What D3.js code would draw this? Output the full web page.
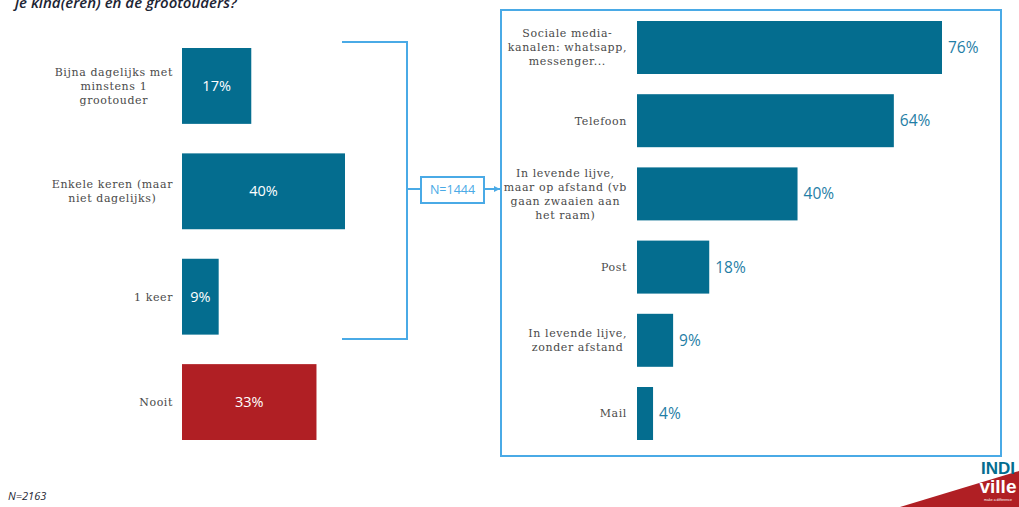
<!DOCTYPE html>
<html><head><meta charset="utf-8">
<script src="https://cdn.jsdelivr.net/npm/d3@7"></script>
<style>html,body{margin:0;padding:0;background:#fff;}svg{display:block;}</style>
</head><body>
<svg id="chart" width="1019" height="507"></svg>
<script>
// ---- data ----
const leftCategories = [
  ["Bijna dagelijks met", "minstens 1", "grootouder"],
  ["Enkele keren (maar", "niet dagelijks)"],
  ["1 keer"],
  ["Nooit"]
];
const leftValues = [17, 40, 9, 33];
const leftColors = ["#046d8f", "#046d8f", "#046d8f", "#b01f24"];

const rightCategories = [
  ["Sociale media-", "kanalen: whatsapp,", "messenger..."],
  ["Telefoon"],
  ["In levende lijve,", "maar op afstand (vb", "gaan zwaaien aan", "het raam)"],
  ["Post"],
  ["In levende lijve,", "zonder afstand"],
  ["Mail"]
];
const rightValues = [76, 64, 40, 18, 9, 4];

const titleText = "je kind(eren) en de grootouders?";
const subN = "N=1444";
const totalN = "N=2163";

// ---- drawing ----
const svg = d3.select("#chart");
const teal = "#046d8f";
const lineBlue = "#4aaae6";
const labelFont = "'DejaVu Serif', serif";
const sansFont = "'Open Sans', 'Noto Sans', sans-serif";

svg.append("text").attr("x", 15).attr("y", 8)
  .attr("font-family", "'Open Sans', sans-serif").attr("font-style", "italic")
  .attr("font-weight", 600).attr("font-size", 15).attr("fill", "#1c2433")
  .text(titleText);

// Left chart
const lx = d3.scaleLinear().domain([0, 40]).range([182, 345]);
const ly = d3.scaleBand().domain(d3.range(leftValues.length)).range([48, 440]).paddingInner(0.28).paddingOuter(0);

const lg = svg.append("g");
lg.selectAll("rect").data(leftValues).join("rect")
  .attr("x", lx(0)).attr("y", (d, i) => ly(i))
  .attr("width", d => lx(d) - lx(0)).attr("height", ly.bandwidth())
  .attr("fill", (d, i) => leftColors[i]);
lg.selectAll("text.val").data(leftValues).join("text").attr("class", "val")
  .attr("x", d => (lx(d) + lx(0)) / 2).attr("y", (d, i) => ly(i) + ly.bandwidth() / 2)
  .attr("dy", "0.35em").attr("text-anchor", "middle")
  .attr("font-family", sansFont).attr("font-size", 14.5).attr("fill", "#fff")
  .text(d => d + "%");

function drawLabels(g, cats, yScale, rightEdge) {
  cats.forEach((lines, i) => {
    const t = g.append("text").attr("font-family", labelFont).attr("font-size", 11)
      .attr("letter-spacing", 0.6)
      .attr("fill", "#4a4a4a").attr("text-anchor", "middle");
    const lh = 14;
    const cy = yScale(i) + yScale.bandwidth() / 2;
    const spans = lines.map((l, k) => t.append("tspan")
      .attr("y", cy + (k - (lines.length - 1) / 2) * lh).attr("dy", "0.35em").text(l));
    let maxW = 0;
    spans.forEach(s => { maxW = Math.max(maxW, s.node().getComputedTextLength()); });
    spans.forEach(s => s.attr("x", rightEdge - maxW / 2));
  });
}
drawLabels(lg, leftCategories, ly, 173);

// Bracket
const br = svg.append("g").attr("fill", "none").attr("stroke", lineBlue).attr("stroke-width", 2);
br.append("path").attr("d", "M342,42 H407 V339 H342");
br.append("line").attr("x1", 407).attr("x2", 421).attr("y1", 189).attr("y2", 189);
br.append("rect").attr("x", 421).attr("y", 177).attr("width", 63).attr("height", 26).attr("fill", "#fff");
br.append("line").attr("x1", 484).attr("x2", 500).attr("y1", 189).attr("y2", 189);
svg.append("path").attr("d", "M494,186 L500,189 L494,192 Z").attr("fill", lineBlue);
svg.append("text").attr("x", 452.5).attr("y", 190).attr("dy", "0.35em").attr("text-anchor", "middle")
  .attr("font-family", sansFont).attr("font-size", 12.5).attr("fill", lineBlue).text(subN);

// Right box
svg.append("rect").attr("x", 501).attr("y", 10).attr("width", 500).attr("height", 446)
  .attr("fill", "none").attr("stroke", lineBlue).attr("stroke-width", 2);

const rx = d3.scaleLinear().domain([0, 76]).range([637, 942]);
const ry = d3.scaleBand().domain(d3.range(rightValues.length)).range([21, 440]).paddingInner(0.276).paddingOuter(0);
const rg = svg.append("g");
rg.selectAll("rect").data(rightValues).join("rect")
  .attr("x", rx(0)).attr("y", (d, i) => ry(i))
  .attr("width", d => rx(d) - rx(0)).attr("height", ry.bandwidth())
  .attr("fill", teal);
rg.selectAll("text.val").data(rightValues).join("text").attr("class", "val")
  .attr("x", d => rx(d) + 6).attr("y", (d, i) => ry(i) + ry.bandwidth() / 2)
  .attr("dy", "0.35em").attr("font-family", sansFont).attr("font-size", 15.5)
  .attr("fill", "#1f7ea6").text(d => d + "%");
drawLabels(rg, rightCategories, ry, 627);

// Footer
svg.append("text").attr("x", 8).attr("y", 500)
  .attr("font-family", "'Open Sans', sans-serif").attr("font-style", "italic")
  .attr("font-size", 11).attr("fill", "#1c2433").text(totalN);

// Logo
const logo = svg.append("g");
logo.append("path").attr("d", "M900,507 L1019,471 L1019,507 Z").attr("fill", "#b01f24");
logo.append("text").attr("x", 998).attr("y", 474).attr("text-anchor", "middle")
  .attr("font-family", "'Liberation Sans Narrow', 'Liberation Sans', sans-serif").attr("font-weight", 700)
  .attr("font-size", 17).attr("fill", teal).text("INDI");
logo.append("text").attr("x", 998).attr("y", 493).attr("text-anchor", "middle")
  .attr("font-family", "'Liberation Sans Narrow', 'Liberation Sans', sans-serif").attr("font-weight", 700)
  .attr("font-size", 19).attr("fill", "#fff").text("ville");
logo.append("text").attr("x", 998).attr("y", 501).attr("text-anchor", "middle")
  .attr("font-family", "sans-serif").attr("font-size", 3.5).attr("fill", "#fff").text("make a difference");
</script>
</body></html>
